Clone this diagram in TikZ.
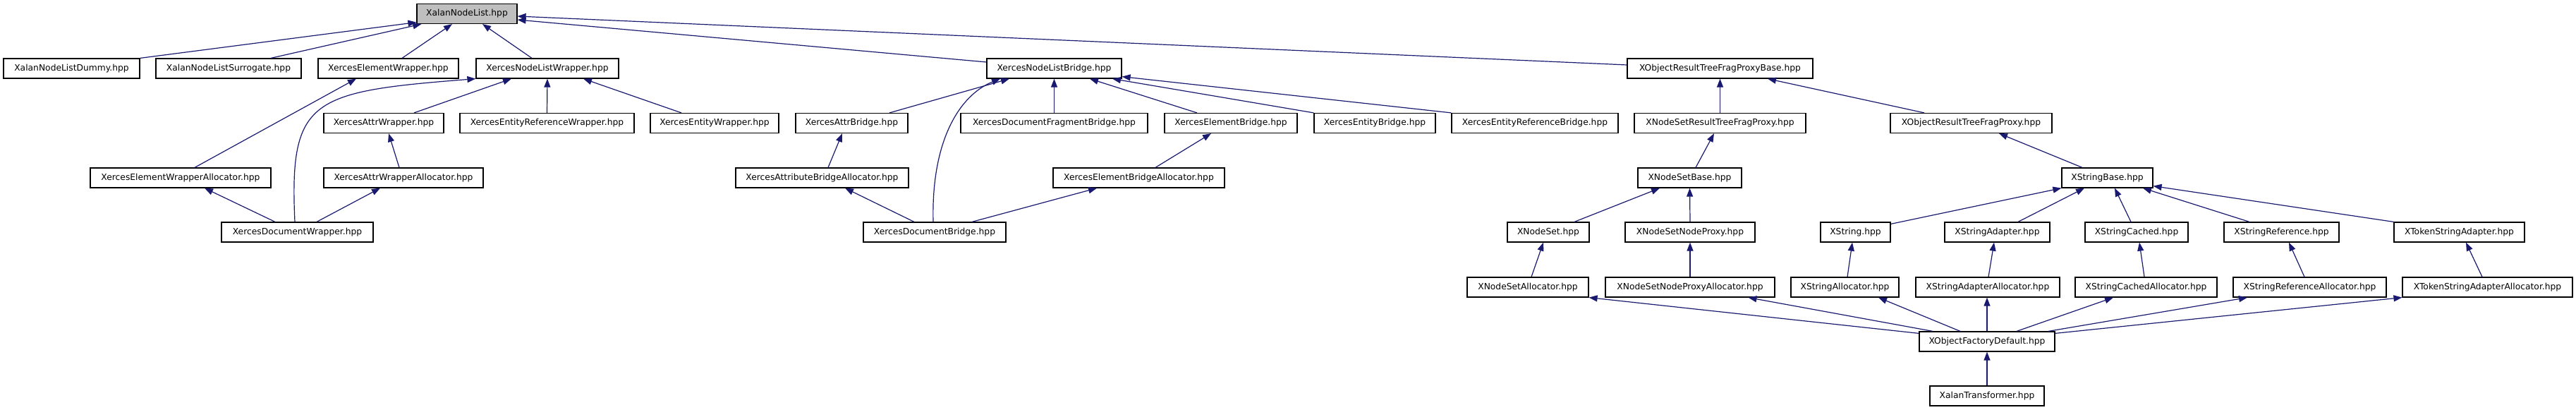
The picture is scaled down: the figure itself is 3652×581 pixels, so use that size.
\documentclass[tikz,border=0pt]{standalone}
\usepackage{fontspec}
\setmainfont{DejaVu Sans}
\usetikzlibrary{arrows.meta}
\definecolor{edgeblue}{HTML}{191970}
\definecolor{rootgray}{HTML}{BFBFBF}
\tikzset{
  box/.style={draw=black, line width=1.2pt, fill=white, minimum height=28pt, inner sep=0pt,
    font=\fontsize{12.3}{14}\selectfont, text=black},
  rootbox/.style={box, fill=rootgray},
  edge/.style={draw=edgeblue, line width=1.2pt, -{Triangle[length=12pt,width=9pt]}},
}
\newcommand\nd[5]{\node[box, minimum width=#4pt] (#1) at (#2,#3) {#5};}
\begin{document}
\begin{tikzpicture}[x=1pt,y=-1pt]
\useasboundingbox (0,0) rectangle (3652,581);
% row 0
\node[rootbox, minimum width=142pt] (XNL) at (662,19.5) {XalanNodeList.hpp};
% row 1
\nd{Dummy}{101.5}{97}{193}{XalanNodeListDummy.hpp}
\nd{Surr}{324}{97}{206}{XalanNodeListSurrogate.hpp}
\nd{EW}{550.5}{97}{199}{XercesElementWrapper.hpp}
\nd{NLW}{776}{97}{202}{XercesNodeListWrapper.hpp}
\nd{NLB}{1494.5}{97}{191}{XercesNodeListBridge.hpp}
\nd{ORTFPB}{2438.5}{97}{263}{XObjectResultTreeFragProxyBase.hpp}
% row 2
\nd{AW}{544}{174.5}{170}{XercesAttrWrapper.hpp}
\nd{ERW}{775.5}{174.5}{247}{XercesEntityReferenceWrapper.hpp}
\nd{EnW}{1013}{174.5}{182}{XercesEntityWrapper.hpp}
\nd{AB}{1207.5}{174.5}{159}{XercesAttrBridge.hpp}
\nd{DFB}{1494.5}{174.5}{265}{XercesDocumentFragmentBridge.hpp}
\nd{EB}{1745}{174.5}{188}{XercesElementBridge.hpp}
\nd{EnB}{1949}{174.5}{172}{XercesEntityBridge.hpp}
\nd{ERB}{2176}{174.5}{236}{XercesEntityReferenceBridge.hpp}
\nd{NSRTFP}{2438.5}{174.5}{243}{XNodeSetResultTreeFragProxy.hpp}
\nd{ORTFP}{2794.5}{174.5}{229}{XObjectResultTreeFragProxy.hpp}
% row 3
\nd{EWA}{256}{252}{256}{XercesElementWrapperAllocator.hpp}
\nd{AWA}{572}{252}{226}{XercesAttrWrapperAllocator.hpp}
\nd{ABA}{1165.5}{252}{245}{XercesAttributeBridgeAllocator.hpp}
\nd{EBA}{1614.5}{252}{243}{XercesElementBridgeAllocator.hpp}
\nd{NSB}{2395.5}{252}{147}{XNodeSetBase.hpp}
\nd{SB}{2987.5}{252}{129}{XStringBase.hpp}
% row 4
\nd{DW}{421.5}{329}{215}{XercesDocumentWrapper.hpp}
\nd{DB}{1325}{329}{202}{XercesDocumentBridge.hpp}
\nd{XNS}{2195}{329}{116}{XNodeSet.hpp}
\nd{XNSNP}{2396}{329}{184}{XNodeSetNodeProxy.hpp}
\nd{XS}{2630.5}{329}{99}{XString.hpp}
\nd{XSA}{2831.5}{329}{149}{XStringAdapter.hpp}
\nd{XSC}{3029}{329}{146}{XStringCached.hpp}
\nd{XSR}{3234.5}{329}{163}{XStringReference.hpp}
\nd{XTSA}{3486.5}{329}{185}{XTokenStringAdapter.hpp}
% row 5
\nd{XNSA}{2166}{407}{172}{XNodeSetAllocator.hpp}
\nd{XNSNPA}{2396}{407}{240}{XNodeSetNodeProxyAllocator.hpp}
\nd{XSAl}{2615.5}{407}{153}{XStringAllocator.hpp}
\nd{XSAA}{2818}{407}{204}{XStringAdapterAllocator.hpp}
\nd{XSCA}{3042.5}{407}{201}{XStringCachedAllocator.hpp}
\nd{XSRA}{3274.5}{407}{217}{XStringReferenceAllocator.hpp}
\nd{XTSAA}{3526.5}{407}{241}{XTokenStringAdapterAllocator.hpp}
% row 6, 7
\nd{XOFD}{2817}{484}{192}{XObjectFactoryDefault.hpp}
\nd{XT}{2817}{561}{162}{XalanTransformer.hpp}

% edges into XalanNodeList
\draw[edge] (Dummy.north east) -- ([yshift=2.5pt]XNL.south west);
\draw[edge] ([xshift=60pt]Surr.north) -- ([xshift=7pt]XNL.south west);
\draw[edge] ([xshift=19.5pt]EW.north) -- ([xshift=-21pt]XNL.south);
\draw[edge] ([xshift=-22pt]NLW.north) -- ([xshift=22pt]XNL.south);
\draw[edge] ([yshift=9pt]NLB.west) -- ([yshift=-8.5pt]XNL.east);
\draw[edge] ([yshift=5pt]ORTFPB.west) -- ([yshift=-3.5pt]XNL.east);
% into XercesNodeListWrapper
\draw[edge] ([xshift=-3.5pt]DW.north) .. controls (410,140) and (440,130) .. (NLW.south west);
\draw[edge] ([xshift=43pt]AW.north) -- ([xshift=-51pt]NLW.south);
\draw[edge] (ERW.north) -- (NLW.south);
\draw[edge] ([xshift=-47pt]EnW.north) -- ([xshift=51pt]NLW.south);
% wrappers
\draw[edge] ([xshift=20pt]EWA.north) -- ([xshift=-45.5pt]EW.south);
\draw[edge] ([xshift=-6pt]AWA.north) -- ([xshift=7pt]AW.south);
\draw[edge] ([xshift=-31.5pt]DW.north) -- ([xshift=34pt]EWA.south);
\draw[edge] ([xshift=27.5pt]DW.north) -- ([xshift=-33pt]AWA.south);
% into XercesNodeListBridge
\draw[edge] ([xshift=53.5pt]AB.north) -- ([xshift=-63.5pt]NLB.south);
\draw[edge] ([xshift=-2pt]DB.north) .. controls (1320,200) and (1360,135) .. ([xshift=-76.5pt]NLB.south);
\draw[edge] (DFB.north) -- (NLB.south);
\draw[edge] ([xshift=-48pt]EB.north) -- ([xshift=50.5pt]NLB.south);
\draw[edge] (EnB.north west) -- ([xshift=82.5pt]NLB.south);
\draw[edge] (ERB.north west) -- ([yshift=3pt]NLB.south east);
% bridges
\draw[edge] ([xshift=8.5pt]ABA.north) -- ([xshift=-13.5pt]AB.south);
\draw[edge] ([xshift=23.5pt]EBA.north) -- ([xshift=-28pt]EB.south);
\draw[edge] ([xshift=-29pt]DB.north) -- ([xshift=32.5pt]ABA.south);
\draw[edge] ([xshift=53pt]DB.north) -- ([xshift=-59.5pt]EBA.south);
% XObject side
\draw[edge] (NSRTFP.north) -- (ORTFPB.south);
\draw[edge] ([xshift=-66.5pt]ORTFP.north) -- ([xshift=67.5pt]ORTFPB.south);
\draw[edge] ([xshift=8.5pt]NSB.north) -- ([xshift=-8.5pt]NSRTFP.south);
\draw[edge] ([xshift=-35.5pt]SB.north) -- ([xshift=39.5pt]ORTFP.south);
\draw[edge] ([xshift=37pt]XNS.north) -- ([xshift=-42.5pt]NSB.south);
\draw[edge] (XNSNP.north) -- (NSB.south);
\draw[edge] ([yshift=-3pt]XS.north east) -- (SB.south west);
\draw[edge] ([xshift=29.5pt]XSA.north) -- ([xshift=-32.5pt]SB.south);
\draw[edge] ([xshift=-8pt]XSC.north) -- ([xshift=10.5pt]SB.south);
\draw[edge] ([xshift=-45.5pt]XSR.north) -- ([xshift=50.5pt]SB.south);
\draw[edge] (XTSA.north west) -- ([yshift=3pt]SB.south east);
% allocators
\draw[edge] ([xshift=5pt]XNSA.north) -- ([xshift=-7pt]XNS.south);
\draw[edge] (XNSNPA.north) -- (XNSNP.south);
\draw[edge] ([xshift=3.5pt]XSAl.north) -- ([xshift=-4.5pt]XS.south);
\draw[edge] ([xshift=1pt]XSAA.north) -- ([xshift=-4.5pt]XSA.south);
\draw[edge] ([xshift=-2.5pt]XSCA.north) -- ([xshift=4pt]XSC.south);
\draw[edge] ([xshift=-7.5pt]XSRA.north) -- ([xshift=10.5pt]XSR.south);
\draw[edge] ([xshift=-7.5pt]XTSAA.north) -- ([xshift=9.5pt]XTSA.south);
% factory
\draw[edge] ([yshift=-3pt]XOFD.north west) -- (XNSA.south east);
\draw[edge] ([xshift=-77pt]XOFD.north) -- ([xshift=82.5pt]XNSNPA.south);
\draw[edge] ([xshift=-38pt]XOFD.north) -- ([xshift=47.5pt]XSAl.south);
\draw[edge] (XOFD.north) -- ([xshift=-1pt]XSAA.south);
\draw[edge] ([xshift=42pt]XOFD.north) -- ([xshift=-46.5pt]XSCA.south);
\draw[edge] ([xshift=87pt]XOFD.north) -- ([xshift=-88.5pt]XSRA.south);
\draw[edge] ([yshift=-3pt]XOFD.north east) -- (XTSAA.south west);
\draw[edge] (XT.north) -- (XOFD.south);
\end{tikzpicture}
\end{document}
